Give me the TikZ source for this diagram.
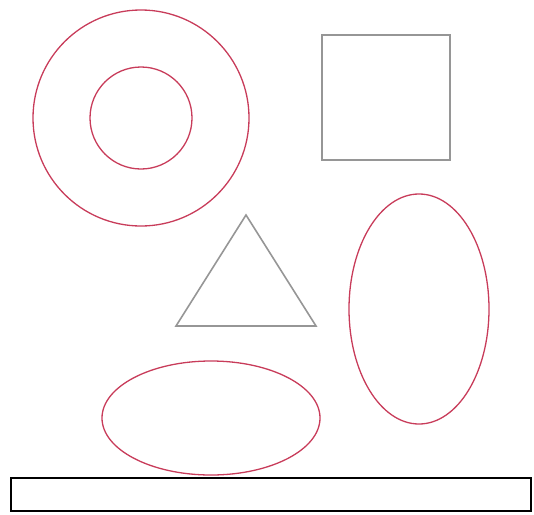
\documentclass[tikz,border=0pt]{standalone}
\definecolor{shapered}{RGB}{200,60,90}
\definecolor{shapegray}{RGB}{150,150,150}
\tikzset{
  redline/.style={draw=shapered, line width=1.3pt},
  grayline/.style={draw=shapegray, line width=1.6pt},
  frameline/.style={draw=black, line width=2pt}
}
\begin{document}
\begin{tikzpicture}[x=1pt,y=-1pt]
\useasboundingbox (0,0) rectangle (534,514);
% concentric circles
\draw[redline] (141,118) circle[radius=108];
\draw[redline] (141,118) circle[radius=51];
% square
\draw[grayline] (322,35) rectangle (450,160);
% triangle
\draw[grayline] (246,215) -- (316,326) -- (176,326) -- cycle;
% vertical ellipse
\draw[redline] (419,309) ellipse[x radius=70, y radius=115];
% horizontal ellipse
\draw[redline] (211,418) ellipse[x radius=109, y radius=57];
% bottom frame
\draw[frameline] (11,478) rectangle (531,511);
\end{tikzpicture}
\end{document}
